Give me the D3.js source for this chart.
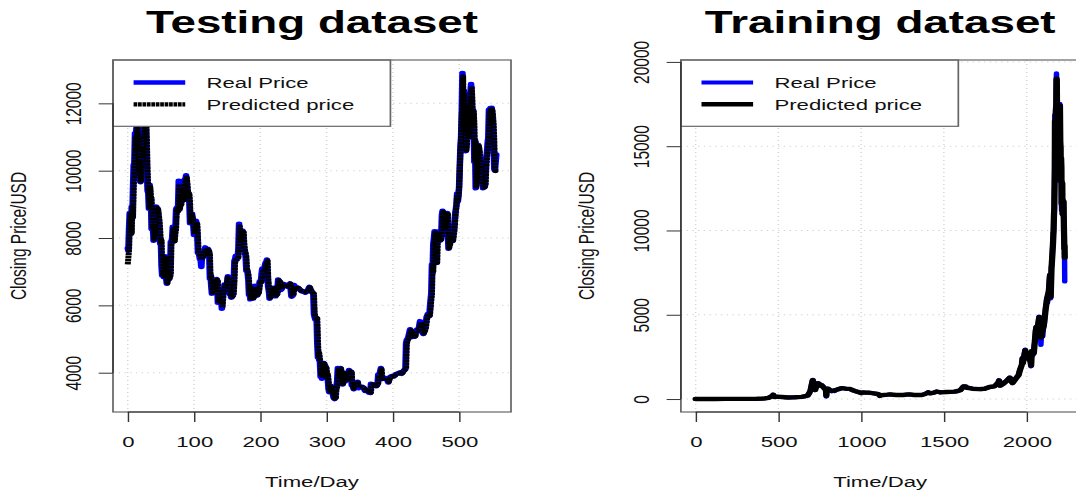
<!DOCTYPE html>
<html><head><meta charset="utf-8">
<script src="https://cdn.jsdelivr.net/npm/d3@7"></script>
<style>html,body{margin:0;padding:0;background:#fff;overflow:hidden}</style>
</head><body>
<svg id="chart"></svg>
<script>
// ---------- DATA ----------
const titles = ["Testing dataset", "Training dataset"];
const legendLabels = ["Real Price", "Predicted price"];
const xLabel = "Time/Day";
const yLabel = "Closing Price/USD";

const testXTicks = [0, 100, 200, 300, 400, 500];
const testYTicks = [4000, 6000, 8000, 10000, 12000];
const trainXTicks = [0, 500, 1000, 1500, 2000];
const trainYTicks = [0, 5000, 10000, 15000, 20000];

// Testing dataset: [day, closing price]
const testReal = [[0,7700],[1,7620],[2,8270],[3,8740],[4,8620],[5,8130],[6,8930],[7,8600],[8,9490],[9,10170],[10,10230],[11,11110],[12,10550],[13,11230],[14,11400],[15,10690],[16,10010],[17,10300],[18,9810],[19,9660],[20,10370],[21,10730],[22,10400],[23,10950],[24,11090],[25,11490],[26,11510],[27,11570],[28,10780],[29,9970],[30,9400],[31,9340],[32,8870],[33,9580],[34,9210],[35,9190],[36,8270],[37,8300],[38,8340],[39,7920],[40,8220],[41,8630],[42,8910],[43,8930],[44,8730],[45,8880],[46,8670],[47,8500],[48,8210],[49,7830],[50,7950],[51,7170],[52,6890],[53,6970],[54,6840],[55,7080],[56,7460],[57,6850],[58,6810],[59,6640],[60,6910],[61,7020],[62,6770],[63,6830],[64,6970],[65,7890],[66,7900],[67,7990],[68,8330],[69,8060],[70,7900],[71,8160],[72,8290],[73,8850],[74,8900],[75,8800],[76,8930],[77,9700],[78,8850],[79,9280],[80,8990],[81,9350],[82,9420],[83,9240],[84,9120],[85,9240],[86,9740],[87,9700],[88,9860],[89,9650],[90,9370],[91,9230],[92,9330],[93,9040],[94,8440],[95,8500],[96,8720],[97,8720],[98,8510],[99,8370],[100,8090],[101,8250],[102,8250],[103,8510],[104,8420],[105,8040],[106,7560],[107,7590],[108,7480],[109,7360],[110,7370],[111,7140],[112,7470],[113,7410],[114,7490],[115,7540],[116,7640],[117,7720],[118,7510],[119,7630],[120,7650],[121,7680],[122,7620],[123,7530],[124,6790],[125,6910],[126,6580],[127,6350],[128,6680],[129,6460],[130,6550],[131,6500],[132,6730],[133,6770],[134,6780],[135,6730],[136,6080],[137,6160],[138,6170],[139,6250],[140,6090],[141,6160],[142,5900],[143,6220],[144,6400],[145,6390],[146,6620],[147,6530],[148,6600],[149,6640],[150,6670],[151,6860],[152,6770],[153,6740],[154,6330],[155,6390],[156,6230],[157,6240],[158,6280],[159,6360],[160,6740],[161,7320],[162,7370],[163,7470],[164,7350],[165,7420],[166,7420],[167,7710],[168,8420],[169,8180],[170,7950],[171,8170],[172,8190],[173,8220],[174,8180],[175,7780],[176,7630],[177,7570],[178,7430],[179,7030],[180,7070],[181,6950],[182,6750],[183,6310],[184,6570],[185,6180],[186,6300],[187,6320],[188,6260],[189,6200],[190,6310],[191,6330],[192,6580],[193,6400],[194,6490],[195,6290],[196,6480],[197,6360],[198,6530],[199,6700],[200,6730],[201,6680],[202,6940],[203,7090],[204,7050],[205,7000],[206,7030],[207,7190],[208,7270],[209,7260],[210,7360],[211,6790],[212,6530],[213,6420],[214,6200],[215,6250],[216,6290],[217,6290],[218,6340],[219,6520],[220,6510],[221,6520],[222,6500],[223,6270],[224,6350],[225,6330],[226,6490],[227,6770],[228,6720],[229,6710],[230,6600],[231,6460],[232,6480],[233,6640],[234,6640],[235,6610],[236,6630],[237,6590],[240,6560],[243,6600],[245,6650],[247,6260],[249,6290],[251,6600],[253,6490],[256,6530],[259,6480],[262,6420],[265,6410],[268,6380],[271,6420],[274,6550],[277,6410],[280,6350],[281,5740],[282,5650],[283,5580],[285,5620],[286,4870],[287,4450],[288,4600],[289,4370],[290,4330],[291,3880],[292,4010],[293,3820],[294,3860],[295,4270],[296,4280],[297,4020],[298,4210],[299,4140],[300,3870],[301,3960],[302,3770],[303,3510],[304,3420],[305,3480],[306,3610],[307,3500],[308,3430],[309,3480],[310,3310],[311,3240],[312,3220],[313,3250],[314,3550],[315,3590],[316,3750],[317,4140],[318,3900],[319,4000],[320,3980],[321,4140],[322,3880],[323,3890],[324,3650],[325,3920],[326,3820],[327,4000],[328,3740],[329,3840],[331,3790],[333,3860],[334,4080],[335,4030],[337,4030],[338,3630],[339,3630],[341,3510],[342,3660],[344,3680],[346,3620],[347,3730],[348,3540],[350,3580],[352,3580],[354,3580],[356,3550],[358,3460],[360,3490],[362,3460],[364,3410],[366,3400],[367,3670],[369,3660],[371,3630],[373,3620],[375,3600],[377,3670],[378,3950],[380,3960],[382,4140],[383,3810],[385,3830],[388,3850],[391,3820],[393,3710],[395,3860],[398,3900],[401,3890],[403,3920],[405,3960],[408,3980],[411,4010],[413,3970],[415,4030],[418,4100],[419,4110],[420,4880],[421,4970],[423,5030],[426,5290],[427,5210],[429,5060],[431,5100],[433,5070],[435,5260],[437,5290],[439,5290],[441,5530],[442,5460],[444,5210],[446,5150],[448,5260],[449,5350],[451,5660],[453,5750],[455,5680],[456,5940],[457,6170],[458,6350],[459,7210],[460,6970],[461,7810],[462,7990],[463,8200],[464,7880],[465,7350],[466,7260],[467,8190],[468,7990],[469,7950],[470,8060],[471,7920],[473,8050],[474,8670],[475,8810],[476,8720],[477,8660],[478,8270],[479,8560],[480,8550],[482,8740],[483,8110],[484,7680],[485,7790],[486,7810],[487,7990],[488,7890],[489,8000],[490,7910],[492,8240],[494,8690],[495,8840],[496,8990],[497,9320],[498,9080],[499,9270],[500,9530],[501,10150],[502,10700],[503,11000],[504,11760],[505,12900],[506,11160],[507,12380],[508,11910],[509,10820],[510,10580],[511,10800],[512,11980],[513,11140],[514,10980],[515,11250],[516,11480],[517,12300],[518,12570],[519,12100],[520,11350],[521,11800],[522,11390],[523,10260],[524,10900],[525,9480],[526,9690],[527,10640],[528,10520],[529,10760],[530,10600],[531,10320],[532,9880],[533,9790],[534,9880],[535,9860],[536,9480],[537,9530],[538,9500],[539,9590],[540,10090],[541,10400],[542,10530],[543,10820],[544,10980],[545,11810],[546,11770],[547,11860],[548,11390],[549,11870],[550,11680],[551,11390],[552,10900],[553,10050],[554,10000],[555,10250],[556,10480]];

const testPred = [[0,7215],[2,7650],[3,8250],[4,8700],[6,8150],[7,8900],[8,8620],[9,9450],[10,10100],[11,10230],[12,11000],[13,10560],[14,11150],[15,11330],[16,10700],[17,10050],[18,10250],[19,9820],[20,9680],[21,10300],[22,10680],[23,10420],[24,10900],[25,11050],[26,11420],[27,11480],[28,11500],[29,10800],[30,10000],[31,9430],[32,9350],[33,8900],[34,9520],[35,9220],[36,9180],[37,8320],[38,8300],[39,8320],[40,7950],[41,8200],[42,8580],[43,8880],[44,8900],[45,8740],[46,8850],[47,8680],[48,8500],[49,8230],[50,7860],[51,7930],[52,7230],[53,6920],[54,6960],[55,6860],[56,7060],[57,7420],[58,6880],[59,6820],[60,6660],[61,6890],[62,7000],[63,6790],[64,6830],[65,6950],[66,7820],[67,7880],[68,7970],[69,8280],[70,8060],[71,7910],[72,8140],[73,8270],[74,8800],[75,8870],[76,8790],[77,8900],[78,9600],[79,8880],[80,9240],[81,8990],[82,9310],[83,9390],[84,9240],[85,9130],[86,9230],[87,9680],[88,9670],[89,9800],[90,9640],[91,9380],[92,9240],[93,9310],[94,9050],[95,8480],[97,8700],[99,8510],[101,8110],[103,8250],[105,8420],[107,7600],[109,7490],[111,7360],[113,7450],[115,7480],[117,7630],[119,7530],[121,7660],[123,7610],[124,7500],[125,6850],[126,6890],[127,6600],[128,6380],[129,6650],[130,6470],[132,6510],[133,6710],[135,6760],[136,6720],[137,6120],[139,6180],[141,6110],[142,6150],[143,5940],[144,6200],[145,6380],[147,6600],[149,6620],[151,6830],[153,6760],[154,6730],[155,6360],[157,6250],[159,6290],[160,6350],[161,6700],[162,7260],[163,7350],[165,7370],[167,7420],[168,7680],[169,8350],[170,8170],[171,7960],[173,8190],[175,8170],[176,7800],[177,7640],[179,7450],[180,7060],[182,6940],[183,6760],[184,6340],[185,6540],[186,6210],[188,6300],[190,6220],[192,6320],[193,6550],[195,6470],[196,6310],[198,6380],[200,6690],[202,6700],[203,6900],[205,7030],[207,7030],[208,7170],[210,7260],[211,7330],[212,6840],[213,6560],[214,6440],[215,6230],[217,6280],[219,6330],[220,6500],[222,6510],[224,6290],[226,6340],[227,6480],[228,6740],[230,6700],[232,6480],[234,6620],[237,6600],[240,6570],[243,6590],[246,6640],[248,6290],[250,6290],[252,6570],[254,6500],[257,6520],[260,6480],[263,6420],[266,6410],[269,6390],[272,6420],[275,6530],[278,6410],[281,6340],[282,5790],[283,5660],[285,5600],[286,5620],[287,4930],[288,4490],[289,4580],[290,4390],[291,4330],[292,3920],[293,3990],[294,3840],[295,3860],[296,4230],[297,4270],[298,4040],[299,4190],[300,4140],[301,3890],[302,3950],[303,3790],[304,3530],[305,3440],[306,3470],[307,3590],[308,3500],[309,3440],[310,3470],[311,3320],[312,3240],[313,3230],[314,3250],[315,3520],[316,3580],[317,3730],[318,4100],[319,3920],[320,3990],[321,3980],[322,4120],[323,3900],[324,3880],[325,3670],[326,3900],[327,3830],[328,3980],[329,3760],[331,3800],[334,3860],[335,4050],[337,4020],[338,4000],[339,3660],[341,3530],[343,3650],[345,3670],[347,3700],[349,3560],[351,3580],[354,3570],[357,3540],[359,3470],[362,3470],[365,3420],[367,3410],[368,3640],[370,3650],[373,3620],[376,3610],[378,3680],[379,3930],[381,3960],[383,4110],[384,3830],[386,3830],[389,3850],[392,3800],[394,3730],[396,3850],[399,3890],[402,3890],[405,3950],[408,3970],[411,4000],[414,3980],[417,4050],[419,4100],[420,4120],[421,4850],[422,4950],[424,5020],[427,5260],[428,5220],[430,5080],[432,5090],[434,5080],[436,5240],[438,5280],[440,5300],[442,5500],[443,5460],[445,5230],[447,5170],[449,5270],[450,5340],[452,5640],[454,5740],[456,5700],[457,5920],[458,6150],[459,6330],[460,7150],[461,6990],[462,7760],[463,7970],[464,8160],[465,7880],[466,7380],[467,7270],[468,8140],[469,7990],[471,7960],[473,7950],[474,8040],[475,8630],[476,8780],[477,8720],[478,8650],[479,8290],[480,8540],[482,8600],[483,8710],[484,8130],[485,7700],[486,7780],[488,7980],[490,7950],[491,7920],[493,8220],[495,8810],[496,8980],[497,9280],[498,9100],[499,9250],[500,9500],[501,10080],[502,10640],[503,10950],[504,11680],[505,11900],[506,12800],[507,11220],[508,12300],[509,11900],[510,10850],[511,10600],[512,10790],[513,11900],[514,11150],[515,10990],[516,11230],[517,11450],[518,12240],[519,12500],[520,12100],[521,11380],[522,11770],[523,11400],[524,10300],[525,10850],[526,9520],[527,9700],[528,10600],[529,10520],[530,10730],[531,10590],[532,10330],[533,9900],[535,9850],[537,9500],[538,9520],[539,9520],[540,9600],[541,10060],[542,10370],[543,10510],[544,10800],[545,10960],[546,11740],[547,11740],[548,11820],[549,11400],[550,11820],[551,11660],[552,11390],[553,10920],[554,10080],[555,9990],[556,10020]];

// Training dataset: [day, closing price]
const trainReal = [[0,4.2],[30,6.0],[60,4.9],[90,4.9],[120,5.1],[150,5.2],[170,6.6],[190,7.2],[210,9.0],[230,10.8],[260,10.4],[290,11.1],[320,11.7],[350,12.9],[369,13.5],[400,20.5],[420,34],[440,70],[455,150],[466,230],[468,266],[471,140],[476,115],[490,145],[505,120],[520,125],[540,100],[560,90],[580,95],[600,105],[620,120],[640,130],[660,150],[675,200],[685,350],[693,520],[699,800],[703,1000],[707,1150],[711,900],[716,750],[721,520],[726,700],[733,760],[740,950],[748,880],[756,830],[764,820],[772,690],[780,600],[786,550],[789,135],[791,560],[798,620],[806,580],[814,500],[822,450],[830,500],[840,460],[852,560],[865,610],[880,650],[893,640],[905,620],[918,590],[930,600],[945,510],[960,480],[975,440],[990,390],[1000,340],[1010,400],[1025,370],[1045,380],[1065,350],[1085,320],[1099,315],[1106,270],[1113,175],[1120,230],[1140,230],[1160,260],[1175,280],[1190,250],[1210,240],[1230,230],[1250,240],[1270,270],[1290,280],[1305,260],[1320,235],[1345,230],[1365,240],[1385,300],[1395,350],[1404,410],[1412,330],[1425,330],[1440,390],[1455,450],[1464,430],[1478,390],[1495,410],[1515,420],[1540,415],[1565,440],[1585,450],[1598,530],[1612,700],[1618,760],[1630,750],[1640,650],[1655,670],[1672,610],[1690,590],[1710,590],[1725,575],[1745,610],[1760,650],[1775,720],[1790,730],[1805,760],[1818,890],[1826,950],[1833,1130],[1840,780],[1848,830],[1856,900],[1865,1000],[1875,1050],[1889,1190],[1897,1280],[1903,1200],[1910,1000],[1914,940],[1922,1080],[1932,1200],[1942,1340],[1950,1420],[1959,1760],[1966,1900],[1970,2050],[1974,2450],[1976,2100],[1981,2400],[1986,2700],[1991,2950],[1995,2450],[2000,2760],[2006,2570],[2011,2450],[2018,2510],[2022,2230],[2026,1930],[2030,2870],[2038,2600],[2042,2720],[2046,3200],[2050,3450],[2054,4100],[2058,4300],[2063,4100],[2068,4350],[2072,4700],[2075,4900],[2080,4300],[2083,4150],[2086,3200],[2089,3680],[2092,4000],[2097,3700],[2102,4340],[2106,4400],[2110,4800],[2114,5400],[2119,5700],[2122,6000],[2126,5700],[2130,6150],[2133,6450],[2138,7200],[2140,7400],[2144,5950],[2147,6600],[2149,7800],[2154,8200],[2158,9300],[2161,9900],[2163,9900],[2164,10975],[2166,11400],[2169,13750],[2170,16867],[2172,15600],[2173,15000],[2175,17200],[2178,17600],[2179,19000],[2180,19340],[2181,19080],[2182,17780],[2183,16620],[2184,15800],[2185,13830],[2186,14700],[2187,13930],[2188,13830],[2189,16000],[2190,15840],[2191,14610],[2193,12950],[2194,14160],[2195,13660],[2196,14980],[2198,15600],[2199,17430],[2200,17530],[2201,16480],[2202,15170],[2204,14970],[2205,13400],[2207,14360],[2209,13820],[2210,11490],[2211,11190],[2213,11610],[2214,12900],[2216,10930],[2218,11360],[2220,11170],[2222,11790],[2223,11300],[2224,10110],[2226,9170],[2227,8830],[2228,9170],[2229,8280],[2230,6960]];

const trainPred = [[0,4.5],[60,5.0],[120,5.1],[180,6.8],[240,10.5],[300,11.2],[369,13.4],[410,25],[440,65],[456,140],[467,210],[469,250],[472,150],[478,118],[495,140],[520,124],[560,92],[600,104],[640,129],[676,195],[686,340],[694,500],[700,780],[704,980],[708,1120],[712,920],[717,760],[722,540],[727,690],[734,750],[741,930],[757,830],[773,700],[781,610],[787,540],[790,180],[792,520],[800,610],[815,505],[831,495],[853,550],[881,645],[906,615],[931,600],[961,480],[991,395],[1001,350],[1011,395],[1046,378],[1086,322],[1107,275],[1114,185],[1121,225],[1161,258],[1176,278],[1211,242],[1251,240],[1291,278],[1321,238],[1366,240],[1386,295],[1396,345],[1405,400],[1413,340],[1441,385],[1456,445],[1479,392],[1516,418],[1566,438],[1599,520],[1613,680],[1619,750],[1631,745],[1641,660],[1673,612],[1711,590],[1746,608],[1776,715],[1806,755],[1819,880],[1827,945],[1834,1100],[1841,800],[1857,895],[1876,1045],[1890,1180],[1898,1265],[1911,1010],[1915,950],[1933,1190],[1951,1410],[1960,1730],[1971,2030],[1975,2400],[1977,2120],[1982,2380],[1992,2900],[1996,2480],[2001,2740],[2012,2440],[2023,2250],[2027,1980],[2031,2820],[2043,2710],[2047,3150],[2055,4050],[2059,4270],[2064,4110],[2073,4650],[2076,4850],[2081,4330],[2087,3650],[2090,3700],[2093,3980],[2103,4310],[2115,5350],[2123,5950],[2134,6400],[2141,7350],[2145,6050],[2150,7700],[2159,9200],[2162,9850],[2165,10900],[2167,11300],[2170,13600],[2171,16500],[2174,15100],[2176,17000],[2179,17500],[2180,18800],[2181,19000],[2182,18900],[2183,17700],[2184,16600],[2185,15800],[2186,14000],[2187,14600],[2189,13950],[2190,15800],[2192,14600],[2194,13100],[2195,14100],[2197,14900],[2199,15600],[2200,17300],[2201,17400],[2203,15300],[2205,14900],[2206,13500],[2208,14300],[2210,13700],[2211,11600],[2214,11600],[2215,12800],[2217,11000],[2221,11200],[2223,11700],[2225,10200],[2227,9250],[2228,8900],[2229,9100],[2230,8400]];

// ---------- LAYOUT ----------
const W = 1076, H = 495, SX = 1.43;   // reference is stretched horizontally
const VW = W / SX;
const FONT = '"Liberation Sans", Arial, Helvetica, sans-serif';
const FS = 15.5;

const svg = d3.select('#chart')
  .attr('width', W).attr('height', H)
  .attr('viewBox', `0 0 ${VW} ${H}`)
  .attr('preserveAspectRatio', 'none')
  .style('display', 'block');
svg.append('rect').attr('x', 0).attr('y', 0).attr('width', VW).attr('height', H).attr('fill', '#fff');

function drawPanel(p, id) {
  const xs = p.real.map(d => d[0]).concat(p.pred.map(d => d[0]));
  const ys = p.real.map(d => d[1]).concat(p.pred.map(d => d[1]));
  const [xa, xb] = d3.extent(xs), [ya, yb] = d3.extent(ys);
  const px = 0.04 * (xb - xa), py = 0.04 * (yb - ya);
  const x = d3.scaleLinear().domain([xa - px, xb + px]).range([p.x0, p.x1]);
  const y = d3.scaleLinear().domain([ya - py, yb + py]).range([p.y1, p.y0]);
  const g = svg.append('g');

  g.append('clipPath').attr('id', 'clip' + id).append('rect')
    .attr('x', p.x0).attr('y', p.y0).attr('width', p.x1 - p.x0).attr('height', p.y1 - p.y0);

  // grid
  g.selectAll('.gx').data(p.xt).join('line')
    .attr('x1', d => x(d)).attr('x2', d => x(d)).attr('y1', p.y0).attr('y2', p.y1)
    .attr('stroke', '#d3d3d3').attr('stroke-width', 1).attr('stroke-dasharray', '1,3');
  g.selectAll('.gy').data(p.yt).join('line')
    .attr('x1', p.x0).attr('x2', p.x1).attr('y1', d => y(d)).attr('y2', d => y(d))
    .attr('stroke', '#d3d3d3').attr('stroke-width', 1).attr('stroke-dasharray', '1,3');

  const line = d3.line().x(d => x(d[0])).y(d => y(d[1]));
  const lg = g.append('g').attr('clip-path', `url(#clip${id})`);
  lg.append('path').attr('d', line(p.real)).attr('fill', 'none')
    .attr('stroke', '#0000ff').attr('stroke-width', p.blueW)
    .attr('stroke-linejoin', 'round').attr('stroke-linecap', 'round');
  const pp = lg.append('path').attr('d', line(p.pred)).attr('fill', 'none')
    .attr('stroke', '#000').attr('stroke-width', p.blackW)
    .attr('stroke-linejoin', 'round');
  if (p.dash) pp.attr('stroke-dasharray', p.dash); else pp.attr('stroke-linecap', 'round');

  // legend
  const lw = 194, lh = 66.3;
  g.append('rect').attr('x', p.x0).attr('y', p.y0).attr('width', lw).attr('height', lh)
    .attr('fill', '#fff').attr('stroke', '#666').attr('stroke-width', 1.2);
  const ly = [82.5, 104.3];
  g.append('line').attr('x1', p.x0 + 14.4).attr('x2', p.x0 + 50.5).attr('y1', ly[0]).attr('y2', ly[0])
    .attr('stroke', '#0000ff').attr('stroke-width', p.blueW);
  const lp = g.append('line').attr('x1', p.x0 + 14.4).attr('x2', p.x0 + 50.5).attr('y1', ly[1]).attr('y2', ly[1])
    .attr('stroke', '#000').attr('stroke-width', p.blackW);
  if (p.dash) lp.attr('stroke-dasharray', p.dash);
  g.selectAll('.lt').data(legendLabels).join('text')
    .attr('x', p.x0 + 65.4).attr('y', (d, i) => ly[i] + 5.3)
    .attr('font-family', FONT).attr('font-size', FS).attr('fill', '#111').text(d => d);

  // box
  g.append('rect').attr('x', p.x0).attr('y', p.y0).attr('width', p.x1 - p.x0).attr('height', p.y1 - p.y0)
    .attr('fill', 'none').attr('stroke', '#666').attr('stroke-width', 1.2);

  // x axis
  const ax = g.append('g').attr('transform', `translate(0,${p.y1})`)
    .call(d3.axisBottom(x).tickValues(p.xt).tickSize(10).tickSizeOuter(0).tickFormat(d3.format('d')));
  ax.select('.domain').remove();
  ax.attr('font-family', FONT).attr('font-size', FS);
  ax.selectAll('.tick line').attr('stroke', '#333');
  ax.selectAll('text').attr('y', 35.3).attr('dy', null).attr('fill', '#111');
  ax.append('line').attr('x1', x(p.xt[0])).attr('x2', x(p.xt[p.xt.length - 1]))
    .attr('y1', 0).attr('y2', 0).attr('stroke', '#333');

  // y axis
  const ay = g.append('g').attr('transform', `translate(${p.x0},0)`)
    .call(d3.axisLeft(y).tickValues(p.yt).tickSize(10).tickSizeOuter(0).tickFormat(d3.format('d')));
  ay.select('.domain').remove();
  ay.attr('font-family', FONT).attr('font-size', FS);
  ay.selectAll('.tick line').attr('stroke', '#333');
  ay.selectAll('text').attr('x', null).attr('dy', null).attr('fill', '#111')
    .attr('text-anchor', 'middle').attr('transform', 'translate(-22.4,0) rotate(-90)');
  ay.append('line').attr('x1', 0).attr('x2', 0)
    .attr('y1', y(p.yt[0])).attr('y2', y(p.yt[p.yt.length - 1])).attr('stroke', '#333');

  // titles
  const cx = (p.x0 + p.x1) / 2;
  g.append('text').attr('x', cx).attr('y', 32.7).attr('text-anchor', 'middle')
    .attr('font-family', FONT).attr('font-size', 32).attr('font-weight', 'bold').attr('fill', '#000')
    .text(p.title);
  g.append('text').attr('x', cx).attr('y', 487).attr('text-anchor', 'middle')
    .attr('font-family', FONT).attr('font-size', FS).attr('fill', '#111').text(xLabel);
  g.append('text').attr('text-anchor', 'middle')
    .attr('transform', `translate(${p.x0 - 60.8},${(p.y0 + p.y1) / 2}) rotate(-90)`)
    .attr('font-family', FONT).attr('font-size', FS).attr('fill', '#111').text(yLabel);
}

drawPanel({
  x0: 113 / SX, x1: 511 / SX, y0: 60, y1: 412,
  real: testReal, pred: testPred, xt: testXTicks, yt: testYTicks,
  title: titles[0], blueW: 4.6, blackW: 4.2, dash: '2.6,0.5'
}, 'A');

drawPanel({
  x0: 680.9 / SX, x1: 1079.5 / SX, y0: 60, y1: 412,
  real: trainReal, pred: trainPred, xt: trainXTicks, yt: trainYTicks,
  title: titles[1], blueW: 3.8, blackW: 4.4, dash: null
}, 'B');
</script>
</body></html>
